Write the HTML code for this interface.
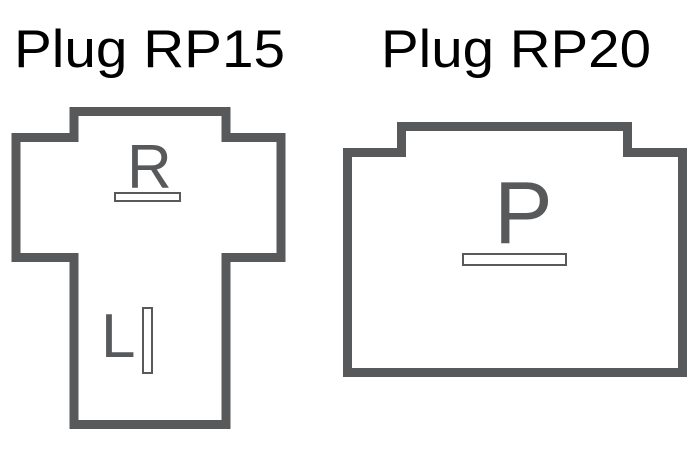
<!DOCTYPE html>
<html><head><style>body{margin:0;background:#fff}svg{display:block}</style></head>
<body>
<svg width="700" height="463" viewBox="0 0 700 463" xmlns="http://www.w3.org/2000/svg" font-family="Liberation Sans, Arial, sans-serif">
<rect width="700" height="463" fill="#fff"/>
<text x="14" y="67" font-size="53" fill="#000" textLength="271" lengthAdjust="spacingAndGlyphs">Plug RP15</text>
<text x="381" y="67" font-size="53" fill="#000" textLength="270" lengthAdjust="spacingAndGlyphs">Plug RP20</text>
<g fill="none" stroke="#58595b" stroke-width="9">
<path d="M74 111.5 H226 V137.5 H281 V257.5 H226 V424.5 H74 V257.5 H16 V137.5 H74 Z"/>
<path d="M401.5 126.5 H627.5 V152.5 H682.5 V372.5 H347.5 V152.5 H401.5 Z"/>
</g>
<g fill="#fff" stroke="#58595b" stroke-width="2">
<rect x="115" y="193" width="65" height="8"/>
<rect x="143" y="308" width="9" height="65"/>
<rect x="463" y="254" width="103" height="11"/>
</g>
<g fill="#58595b">
<text x="127" y="188" font-size="62">R</text>
<text x="101" y="357" font-size="62">L</text>
<text x="494" y="243" font-size="88">P</text>
</g>
</svg>
</body></html>
